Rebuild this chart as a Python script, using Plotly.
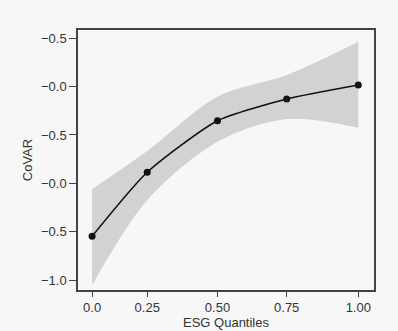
import plotly.graph_objects as go

# ESG quantile positions (as drawn) and their tick labels
quantile_x = [0.0, 0.207, 0.471, 0.731, 1.0]
quantile_labels = ["0.0", "0.25", "0.50", "0.75", "1.00"]

# CoVAR estimates and confidence band
covar = [-0.548, 0.114, 0.647, 0.872, 1.017]
band_upper = [-0.059, 0.334, 0.896, 1.12, 1.464]
band_lower = [-1.052, -0.175, 0.430, 0.665, 0.575]

# y tick positions and the labels printed on them
y_tickvals = [1.5, 1.0, 0.5, 0.0, -0.5, -1.0]
y_ticktext = ["\u22120.5", "\u22120.0", "\u22120.5", "\u22120.0", "\u22120.5", "\u22121.0"]

bg = "#f7f7f7"
axis_col = "#444444"

fig = go.Figure()

fig.add_trace(go.Scatter(
    x=quantile_x, y=band_upper,
    mode="lines", line=dict(width=0, shape="spline", smoothing=0.9),
    hoverinfo="skip", showlegend=False
))
fig.add_trace(go.Scatter(
    x=quantile_x, y=band_lower,
    mode="lines", line=dict(width=0, shape="spline", smoothing=0.9),
    fill="tonexty", fillcolor="#d2d2d2",
    hoverinfo="skip", showlegend=False
))
fig.add_trace(go.Scatter(
    x=quantile_x, y=covar,
    mode="lines+markers",
    line=dict(color="#111111", width=1.6, shape="spline", smoothing=0.6),
    marker=dict(color="#111111", size=7),
    showlegend=False
))

fig.update_layout(
    width=398, height=331,
    margin=dict(l=78, r=24, t=30, b=41, autoexpand=False),
    paper_bgcolor=bg, plot_bgcolor=bg,
    font=dict(family="Liberation Sans, Arial, sans-serif", size=13, color="#333333"),
)

fig.update_xaxes(
    range=[-0.053, 1.059], automargin=False,
    tickvals=quantile_x, ticktext=quantile_labels,
    ticks="outside", ticklen=5, tickcolor=axis_col, tickwidth=1.2,
    showline=True, linecolor=axis_col, linewidth=1.5, mirror=True,
    showgrid=False, zeroline=False,
    tickfont=dict(size=13),
    title=dict(text="ESG Quantiles", font=dict(size=13), standoff=2),
)
fig.update_yaxes(
    range=[-1.103, 1.585], automargin=False,
    tickvals=y_tickvals, ticktext=y_ticktext,
    ticks="outside", ticklen=7, tickcolor=axis_col, tickwidth=1.2,
    showline=True, linecolor=axis_col, linewidth=1.5, mirror=True,
    showgrid=False, zeroline=False,
    tickfont=dict(size=13),
    title=dict(text="CoVAR", font=dict(size=13), standoff=5),
)

# drop the default page margin so the figure fills the window
fig.write_html(
    "out.html",
    config={"displayModeBar": False},
    post_script="document.body.style.margin='0';document.body.style.background='%s';" % bg,
)
